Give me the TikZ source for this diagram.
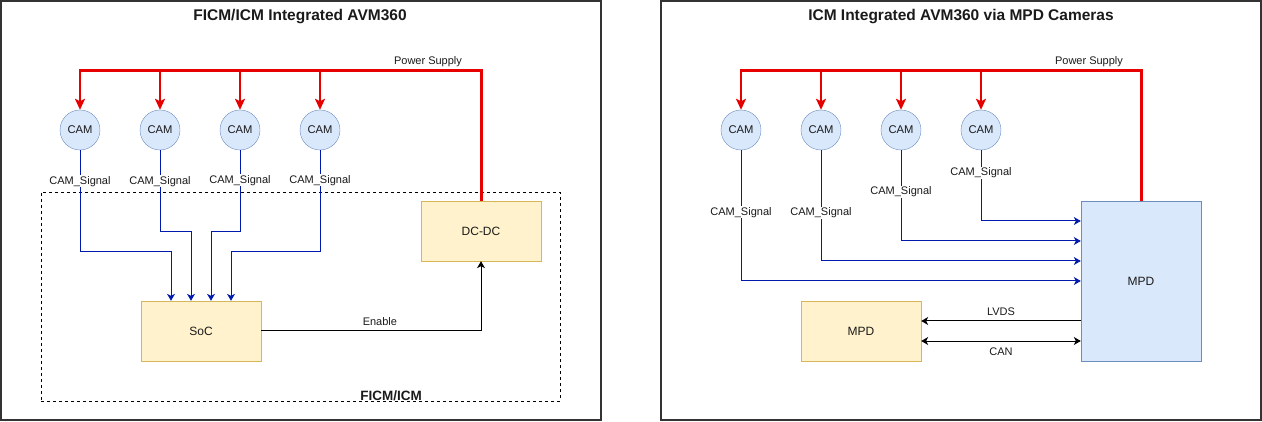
\documentclass[tikz,border=0pt]{standalone}
\usepackage{fontspec}
\setmainfont{Liberation Sans}
\usetikzlibrary{arrows.meta}
\definecolor{pwr}{HTML}{E60000}
\definecolor{sig}{HTML}{001AAF}
\definecolor{camfill}{HTML}{DAE8FC}
\definecolor{camline}{HTML}{6C8EBF}
\definecolor{boxfill}{HTML}{FFF2CC}
\definecolor{boxline}{HTML}{D6B656}
\definecolor{frameline}{HTML}{333333}
\definecolor{txt}{HTML}{1A1A1A}
\begin{document}
\begin{tikzpicture}[x=1pt,y=-1pt,
  cam/.style={circle, draw=camline, fill=camfill, minimum size=40pt, inner sep=0pt, text=txt, font=\fontsize{11.2}{13}\selectfont},
  ybox/.style={rectangle, draw=boxline, fill=boxfill, minimum width=120pt, minimum height=60pt, inner sep=0pt, text=txt, font=\fontsize{12}{14}\selectfont},
  bbox/.style={rectangle, draw=camline, fill=camfill, minimum width=120pt, minimum height=160pt, inner sep=0pt, text=txt, font=\fontsize{12}{14}\selectfont},
  lbl/.style={font=\fontsize{11}{13}\selectfont, inner sep=1pt, text=txt},
  siglbl/.style={lbl, fill=white},
  titletext/.style={font=\bfseries\fontsize{15.5}{18}\selectfont, text=txt},
  framebox/.style={draw=frameline, line width=2pt},
  grp/.style={draw=black, dashed, line width=0.8pt, minimum width=519pt, minimum height=209pt, inner sep=0pt},
  pbus/.style={draw=pwr, line width=3pt},
  pdrop/.style={draw=pwr, line width=2pt, -{Stealth[length=11pt,width=10pt,inset=2.5pt]}},
  sigline/.style={draw=sig, line width=1pt, -{Stealth[length=7pt,width=8pt,inset=2pt]}},
  ctl/.style={draw=black, line width=1pt, -{Stealth[length=7pt,width=8pt,inset=2pt]}},
  ctlboth/.style={draw=black, line width=1pt, {Stealth[length=7pt,width=8pt,inset=2pt]}-{Stealth[length=7pt,width=8pt,inset=2pt]}},
]
\useasboundingbox (0,0) rectangle (1262,422);

% ---------------- left panel ----------------
\draw[framebox] (1,1) rectangle (601,420);
\node[titletext] (t1) at (300,17) {FICM/ICM Integrated AVM360};
\node[grp] (icm) at (300.5,296.5) {};
\node[font=\bfseries\fontsize{13.5}{16}\selectfont, text=txt, inner sep=0pt] (icmlbl) at (391,396) {FICM/ICM};

\node[cam] (a1) at (80,130) {CAM};
\node[cam] (a2) at (160,130) {CAM};
\node[cam] (a3) at (240,130) {CAM};
\node[cam] (a4) at (320,130) {CAM};
\node[ybox] (dcdc) at (481,231) {DC-DC};
\node[ybox] (soc) at (201,331) {SoC};
\coordinate (abus) at (0,71);

\draw[pbus] (dcdc.north) |- ([xshift=-1pt]a1 |- abus);
\node[lbl] (ps1) at (428,62) {Power Supply};
\draw[pdrop] (a1 |- abus) -- (a1.north);
\draw[pdrop] (a2 |- abus) -- (a2.north);
\draw[pdrop] (a3 |- abus) -- (a3.north);
\draw[pdrop] (a4 |- abus) -- (a4.north);

\draw[sigline] (a1.south) -- node[siglbl, pos=0.307] {CAM\_Signal} ++(0,101) -| ([xshift=-30pt]soc.north);
\draw[sigline] (a2.south) -- node[siglbl, pos=0.383] {CAM\_Signal} ++(0,81) -| ([xshift=-10pt]soc.north);
\draw[sigline] (a3.south) -- node[siglbl, pos=0.37] {CAM\_Signal} ++(0,81) -| ([xshift=10pt]soc.north);
\draw[sigline] (a4.south) -- node[siglbl, pos=0.297] {CAM\_Signal} ++(0,101) -| ([xshift=30pt]soc.north);

\draw[ctl] (soc.east) -| node[lbl, pos=0.27, yshift=9pt] {Enable} (dcdc.south);

% ---------------- right panel ----------------
\draw[framebox] (661,1) rectangle (1261,420);
\node[titletext] (t2) at (961,17) {ICM Integrated AVM360 via MPD Cameras};

\node[cam] (b1) at (741,130) {CAM};
\node[cam] (b2) at (821,130) {CAM};
\node[cam] (b3) at (901,130) {CAM};
\node[cam] (b4) at (981,130) {CAM};
\node[bbox] (mpdb) at (1141,281) {MPD};
\node[ybox] (mpdy) at (861,331) {MPD};

\draw[pbus] (mpdb.north) |- ([xshift=-1pt]b1 |- abus);
\node[lbl] (ps2) at (1089,62) {Power Supply};
\draw[pdrop] (b1 |- abus) -- (b1.north);
\draw[pdrop] (b2 |- abus) -- (b2.north);
\draw[pdrop] (b3 |- abus) -- (b3.north);
\draw[pdrop] (b4 |- abus) -- (b4.north);

\draw[sigline] (b4.south) |- node[siglbl, pos=0.162] {CAM\_Signal} ([yshift=60pt]mpdb.west);
\draw[sigline] (b3.south) |- node[siglbl, pos=0.23] {CAM\_Signal} ([yshift=40pt]mpdb.west);
\draw[sigline] (b2.south) |- node[siglbl, pos=0.284] {CAM\_Signal} ([yshift=20pt]mpdb.west);
\draw[sigline] (b1.south) |- node[siglbl, pos=0.237] {CAM\_Signal} (mpdb.west);

\coordinate (lv) at ([yshift=10pt]mpdy.east);
\coordinate (cn) at ([yshift=-10pt]mpdy.east);
\draw[ctl] (lv -| mpdb.west) -- node[lbl, yshift=9pt] {LVDS} (lv);
\draw[ctlboth] (cn) -- node[lbl, yshift=-11pt] {CAN} (cn -| mpdb.west);
\end{tikzpicture}
\end{document}
